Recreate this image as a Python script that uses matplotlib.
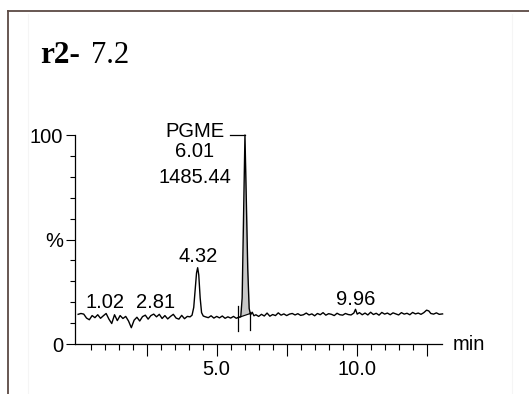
import numpy as np
import matplotlib
matplotlib.use("Agg")
import matplotlib.pyplot as plt
from matplotlib.lines import Line2D

# Chromatogram trace: retention time (min) and relative intensity (%)
times = [0.05, 0.15, 0.25, 0.35, 0.45, 0.55, 0.65, 0.75, 0.85, 0.95,
         1.05, 1.15, 1.25, 1.35, 1.45, 1.55, 1.65, 1.75, 1.85, 1.95,
         2.05, 2.15, 2.25, 2.35, 2.45, 2.55, 2.65, 2.75, 2.85, 2.95,
         3.05, 3.15, 3.25, 3.35, 3.45, 3.55, 3.65, 3.75, 3.85, 3.95,
         4.05, 4.12, 4.18, 4.23, 4.28, 4.32, 4.36, 4.41, 4.46, 4.52,
         4.6, 4.7, 4.8, 4.9, 5.0, 5.1, 5.2, 5.3, 5.4, 5.5,
         5.6, 5.7, 5.78, 5.86, 5.91, 5.96, 6.01, 6.06, 6.11, 6.16,
         6.21, 6.27, 6.33, 6.4, 6.5, 6.6, 6.7, 6.8, 6.9, 7.0,
         7.1, 7.2, 7.3, 7.4, 7.5, 7.6, 7.7, 7.8, 7.9, 8.0,
         8.1, 8.2, 8.3, 8.4, 8.5, 8.6, 8.7, 8.8, 8.9, 9.0,
         9.1, 9.2, 9.3, 9.4, 9.5, 9.6, 9.7, 9.8, 9.9, 9.96,
         10.02, 10.1, 10.2, 10.3, 10.4, 10.5, 10.6, 10.7, 10.8, 10.9,
         11.0, 11.1, 11.2, 11.3, 11.4, 11.5, 11.6, 11.7, 11.8, 11.9,
         12.0, 12.1, 12.2, 12.3, 12.4, 12.5, 12.58, 12.65, 12.75, 12.85,
         12.95, 13.07]
intensity = [14.2, 14.6, 14.3, 12.4, 11.6, 13.6, 12.6, 14.0, 12.3, 13.5,
             14.6, 11.9, 9.8, 14.0, 11.2, 13.6, 12.2, 13.2, 11.0, 7.8,
             11.4, 12.8, 11.0, 13.1, 13.8, 11.9, 13.6, 14.3, 13.0, 14.2,
             12.2, 13.6, 12.0, 13.2, 14.2, 12.4, 11.9, 13.7, 12.1, 13.2,
             13.0, 13.8, 17.5, 26.0, 34.0, 36.5, 33.0, 22.0, 15.0, 13.4,
             13.0, 12.6, 13.5, 12.4, 13.2, 12.5, 13.4, 12.3, 13.0, 12.4,
             13.2, 12.3, 12.8, 13.0, 22.0, 60.0, 100.0, 68.0, 36.0, 17.0,
             14.0, 15.2, 13.5, 14.0, 13.2, 14.2, 13.4, 14.8, 13.3, 14.1,
             13.6, 14.9, 13.8, 14.4, 13.6, 14.3, 14.6, 13.9, 14.5, 13.7,
             14.0, 14.8, 13.9, 14.4, 13.5, 14.6, 14.0, 15.0, 13.8, 14.5,
             14.2, 13.6, 14.7, 14.0, 13.8, 14.6, 14.1, 13.9, 14.8, 16.6,
             14.3, 15.0, 14.0, 14.8, 13.9, 15.2, 14.1, 14.7, 13.8, 15.1,
             14.3, 14.8, 14.0, 14.9, 14.4, 13.9, 15.0, 14.3, 14.7, 14.0,
             15.1, 14.4, 14.8, 14.2, 15.0, 16.2, 15.8, 14.6, 14.3, 14.9,
             14.2, 14.4]

# Peak annotations (retention time, label baseline height in %)
peak_labels = ["1.02", "2.81", "4.32", "9.96"]
peak_label_x = [1.02, 2.81, 4.32, 9.96]
peak_label_y = [17.1, 17.1, 39.4, 18.7]

# Main peak: name, retention time, area
main_name = "PGME"
main_rt = 6.01
main_area = 1485.44

# Integration window of the main peak (start / end time and baseline level)
integ_t = [5.76, 6.20]
integ_base = [12.6, 14.6]

W, H = 529, 394
fig = plt.figure(figsize=(W / 100, H / 100), dpi=100)
fig.patch.set_facecolor("white")

FONT = "Liberation Sans"
FS = 14.5

# page frame lines
frame_col = "#5c4a44"
fig.add_artist(Line2D([8 / W, 8 / W], [0, 1 - 11 / H], color=frame_col, lw=1.3,
                      transform=fig.transFigure))
fig.add_artist(Line2D([8 / W, 1], [1 - 11 / H, 1 - 11 / H], color=frame_col, lw=1.3,
                      transform=fig.transFigure))
for xv in (28, 512):
    fig.add_artist(Line2D([xv / W, xv / W], [0, 1 - 14 / H], color="#f5f5f5", lw=0.8,
                          transform=fig.transFigure))

# title
fig.text(40 / W, 1 - 63 / H, "r2-", fontsize=22.5, fontweight="bold",
         family="Liberation Serif", ha="left", va="baseline")
fig.text(91 / W, 1 - 63 / H, "7.2", fontsize=22,
         family="Liberation Serif", ha="left", va="baseline")

# axes placement (pixel based)
x_left, x_right = 74.5, 442
y_bot, y_top = 344, 135
ax = fig.add_axes([x_left / W, (H - y_bot) / H, (x_right - x_left) / W, (y_bot - y_top) / H])
ax.set_xlim(-0.08, 13.05)
ax.set_ylim(0, 100)
ax.patch.set_alpha(0)

t = np.array(times)
v = np.array(intensity)
ax.plot(t, v, color="black", lw=1.0, clip_on=False, zorder=3)

# shaded integration area of the main peak
mask = (t >= integ_t[0]) & (t <= integ_t[1])
tp = np.concatenate([[integ_t[0]], t[mask], [integ_t[1]]])
vp = np.concatenate([[np.interp(integ_t[0], t, v)], v[mask], [np.interp(integ_t[1], t, v)]])
base = np.interp(tp, integ_t, integ_base)
ax.fill_between(tp, base, np.maximum(vp, base), color="#c8c8c8", lw=0, zorder=2,
                clip_on=False)
ax.plot(integ_t, integ_base, color="black", lw=0.8, zorder=3)
ax.plot([integ_t[0]] * 2, [6.0, 18.0], color="black", lw=0.9, zorder=3)
ax.plot([integ_t[1]] * 2, [6.5, 15.5], color="black", lw=0.9, zorder=3)

# peak labels
for lab, px, py in zip(peak_labels, peak_label_x, peak_label_y):
    ax.text(px, py, lab, fontsize=FS, family=FONT, ha="center", va="baseline")

# main peak label block with leader line
lx = 4.21
ax.text(lx, 99.0, main_name, fontsize=FS, family=FONT, ha="center", va="baseline")
ax.text(lx, 89.6, f"{main_rt:.2f}", fontsize=FS, family=FONT, ha="center", va="baseline")
ax.text(lx, 77.2, f"{main_area:.2f}", fontsize=FS, family=FONT, ha="center", va="baseline")
ax.plot([5.46, main_rt], [100, 100], color="black", lw=0.9, clip_on=False)

# axes styling
for s in ("top", "right"):
    ax.spines[s].set_visible(False)
ax.spines["left"].set_bounds(0, 100)
for s in ("left", "bottom"):
    ax.spines[s].set_linewidth(0.9)

ax.set_xticks([2.5, 5.0, 7.5, 10.0, 12.5])
ax.set_xticklabels(["", "5.0", "", "10.0", ""])
ax.set_xticks([m * 0.5 for m in range(1, 26) if m % 5 != 0], minor=True)
ax.set_yticks([0, 50, 100])
ax.set_yticklabels(["0", "%", "100"])
ax.set_yticks([10, 20, 30, 40, 60, 70, 80, 90], minor=True)

ax.tick_params(axis="x", which="major", direction="out", length=8.5, width=0.8, pad=3)
ax.tick_params(axis="x", which="minor", direction="out", length=4.3, width=0.8)
ax.tick_params(axis="y", which="major", direction="out", length=6.8, width=0.8, pad=1.5)
ax.tick_params(axis="y", which="minor", direction="out", length=3.6, width=0.8)
for lab in ax.get_xticklabels() + ax.get_yticklabels():
    lab.set_fontsize(FS)
    lab.set_family(FONT)

# axis unit
fig.text(453 / W, 1 - 344 / H, "min", fontsize=FS, family=FONT, ha="left", va="center")

fig.savefig("out.png", dpi=100, facecolor="white")
